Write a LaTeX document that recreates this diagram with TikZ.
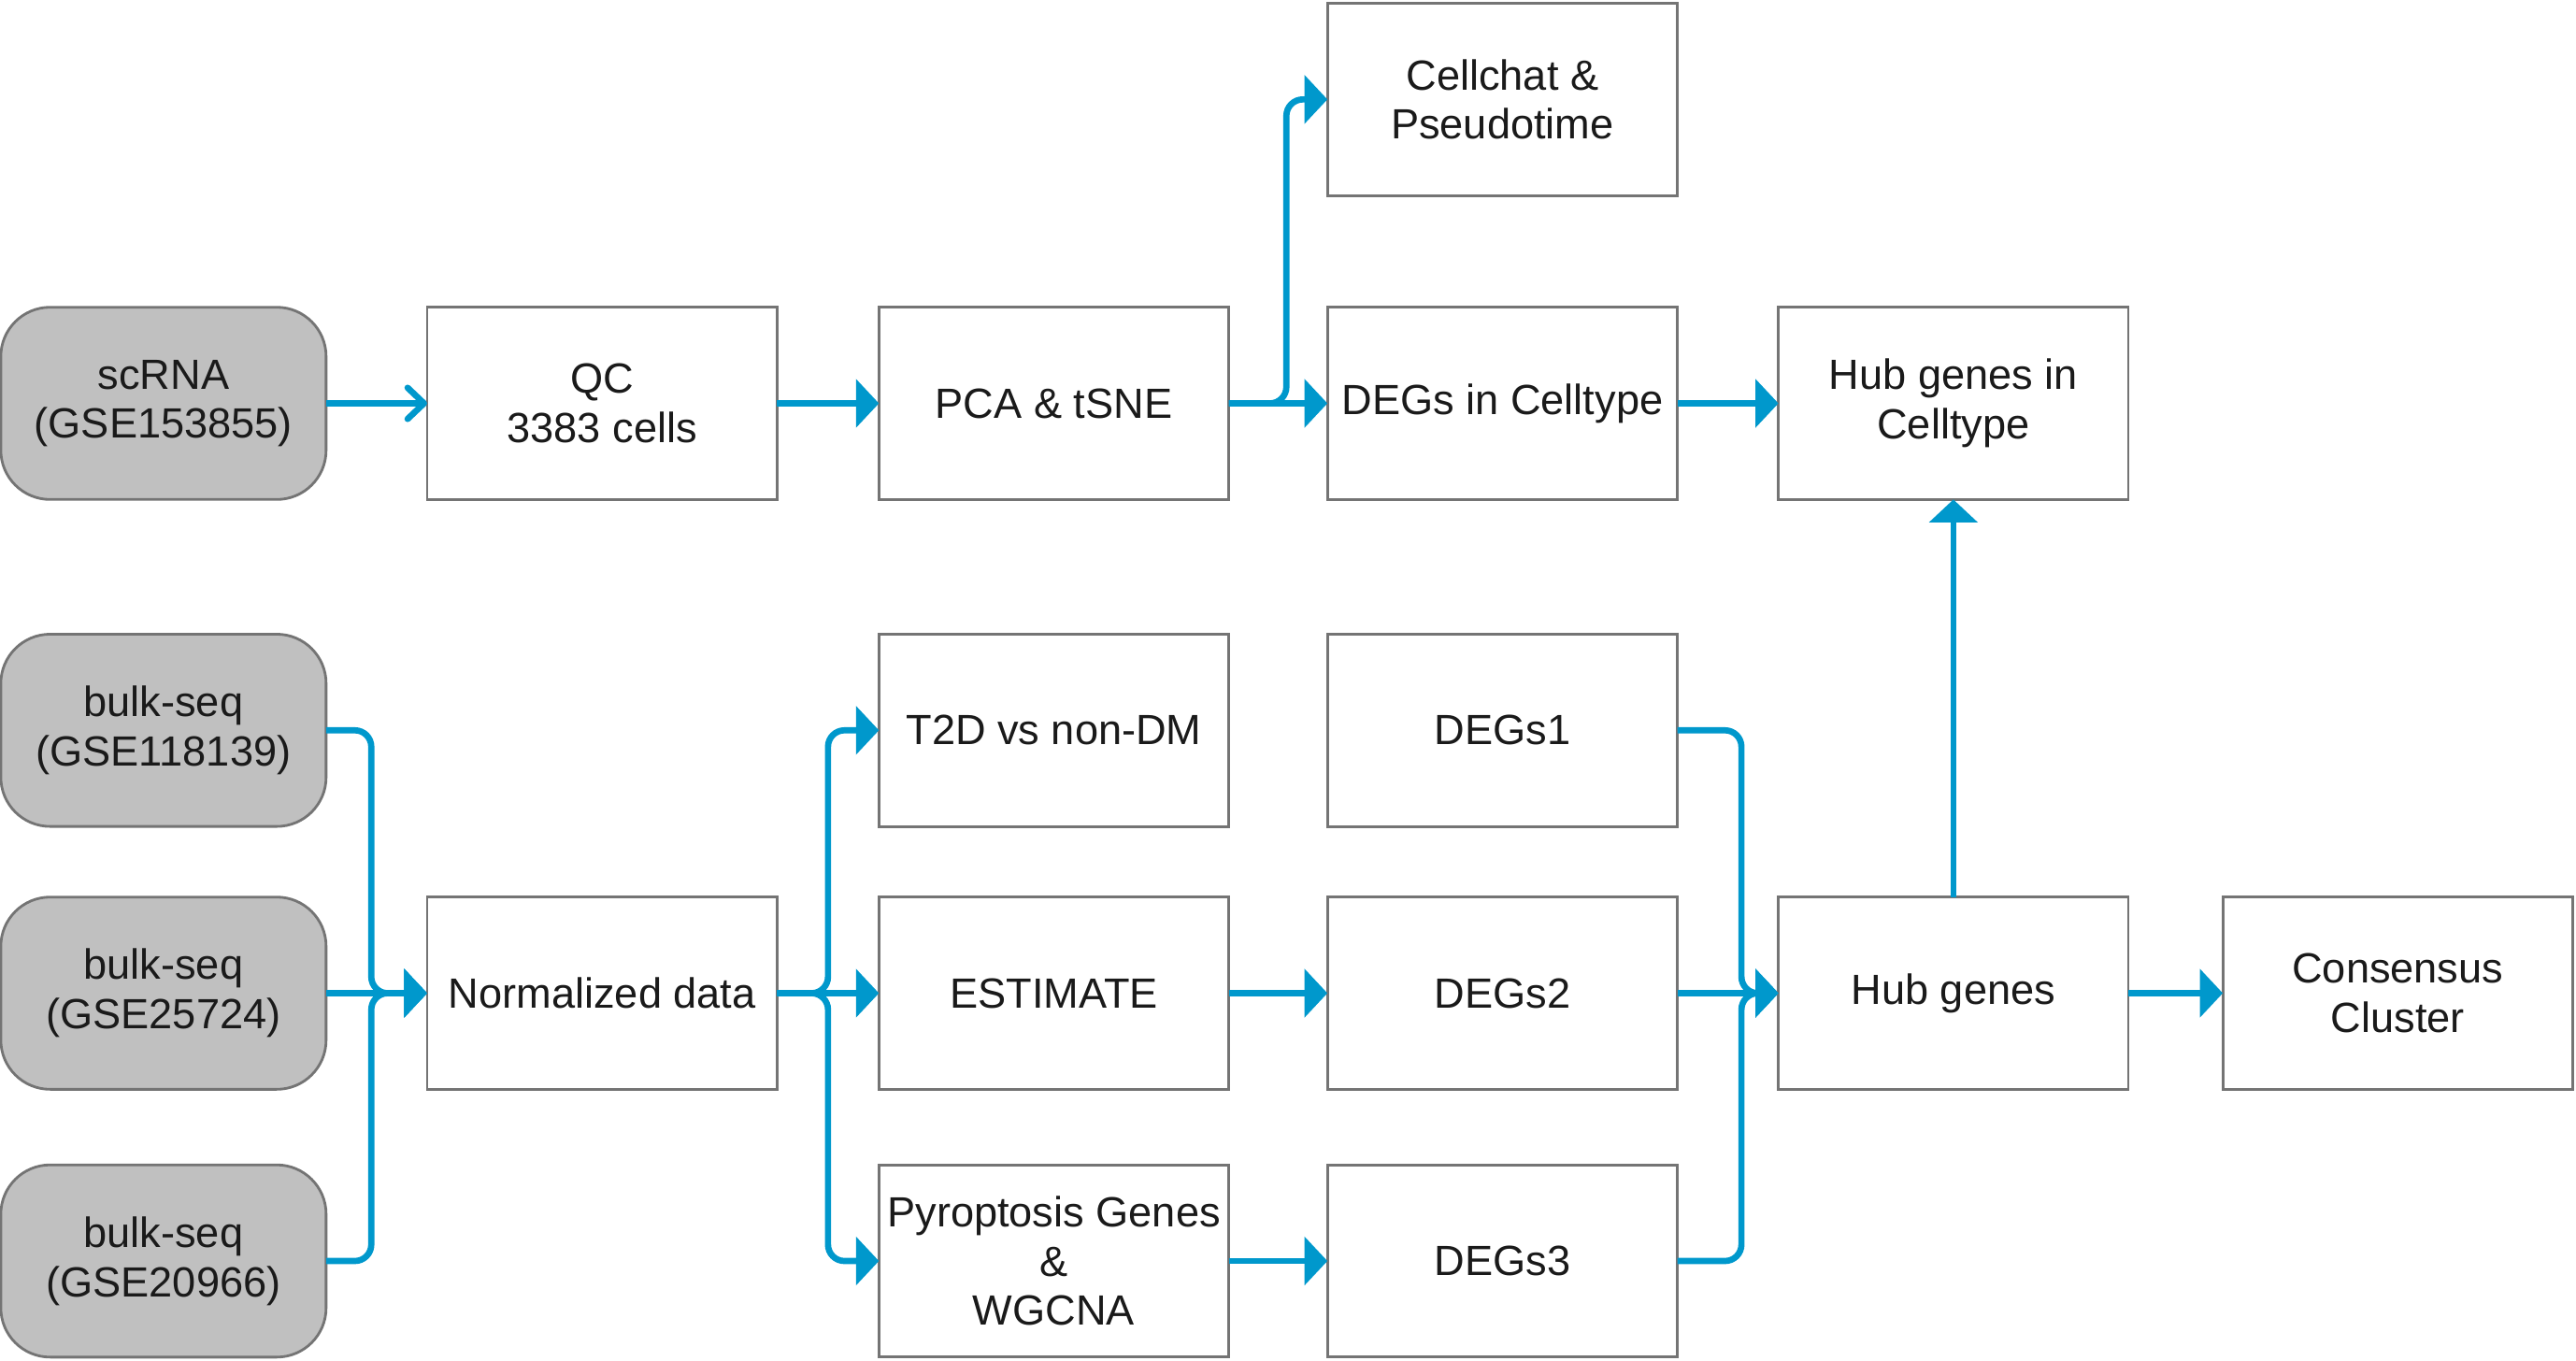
\documentclass[tikz,border=0pt]{standalone}
\usepackage{fontspec}
\setmainfont{Liberation Sans}
\usetikzlibrary{arrows.meta}
\definecolor{arrowblue}{HTML}{0098CC}
\definecolor{boxgray}{HTML}{C0C0C0}
\definecolor{bordergray}{HTML}{747474}
\definecolor{textcol}{HTML}{1A1A1A}
\begin{document}
\begin{tikzpicture}[x=1pt,y=-1pt,
  every node/.style={font=\fontsize{25.7}{30}\selectfont, text=textcol, align=center, inner sep=1pt, outer sep=0pt},
  procbox/.style={draw=bordergray, line width=1.6pt, fill=white, minimum width=213pt, minimum height=117pt},
  srcbox/.style={draw=bordergray, line width=1.6pt, fill=boxgray, rounded corners=30pt, minimum width=198pt, minimum height=117pt},
  flow/.style={draw=arrowblue, line width=3.8pt, -{Triangle[length=14pt,width=29pt]}, rounded corners=10pt},
  openflow/.style={draw=arrowblue, line width=3.8pt, -{Straight Barb[length=10pt,width=19pt,line width=3.8pt,round]}}
]
\useasboundingbox (0,0) rectangle (1568,828);
% sources
\node[srcbox] (sc) at (99.5,245.5) {scRNA\\(GSE153855)};
\node[srcbox] (b1) at (99.5,444.5) {bulk-seq\\(GSE118139)};
\node[srcbox] (b2) at (99.5,604.5) {bulk-seq\\(GSE25724)};
\node[srcbox] (b3) at (99.5,767.5) {bulk-seq\\(GSE20966)};
% process boxes
\node[procbox] (qc) at (366.5,245.5) {QC\\3383 cells};
\node[procbox] (pca) at (641.5,245.5) {PCA \& tSNE};
\node[procbox] (cc) at (914.5,60.5) {Cellchat \&\\Pseudotime};
\node[procbox] (dct) at (914.5,245.5) {DEGs in Celltype};
\node[procbox] (hct) at (1189,245.5) {Hub genes in\\Celltype};
\node[procbox] (norm) at (366.5,604.5) {Normalized data};
\node[procbox] (t2d) at (641.5,444.5) {T2D vs non-DM};
\node[procbox] (est) at (641.5,604.5) {ESTIMATE};
\node[procbox] (pyro) at (641.5,767.5) {Pyroptosis Genes\\\&\\WGCNA};
\node[procbox] (d1) at (914.5,444.5) {DEGs1};
\node[procbox] (d2) at (914.5,604.5) {DEGs2};
\node[procbox] (d3) at (914.5,767.5) {DEGs3};
\node[procbox] (hub) at (1189,604.5) {Hub genes};
\node[procbox] (cons) at (1459.5,604.5) {Consensus\\Cluster};
% junction coordinates
\coordinate (j1) at (226,0);
\coordinate (j2) at (504,0);
\coordinate (j3) at (783,0);
\coordinate (j4) at (1060,0);
% connectors
\draw[openflow] (sc) -- (qc);
\draw[flow] (qc) -- (pca);
\draw[flow] (pca) -- (dct);
\draw[flow] (pca.east) -- (j3 |- pca.east) -- (j3 |- cc.west) -- (cc.west);
\draw[flow] (dct) -- (hct);
\draw[flow] (b1.east) -- (j1 |- b1.east) -- (j1 |- norm.west) -- (norm.west);
\draw[flow] (b2.east) -- (norm.west);
\draw[flow] (b3.east) -- (j1 |- b3.east) -- (j1 |- norm.west) -- (norm.west);
\draw[flow] (norm.east) -- (j2 |- norm.east) -- (j2 |- t2d.west) -- (t2d.west);
\draw[flow] (norm.east) -- (est.west);
\draw[flow] (norm.east) -- (j2 |- norm.east) -- (j2 |- pyro.west) -- (pyro.west);
\draw[flow] (est) -- (d2);
\draw[flow] (pyro) -- (d3);
\draw[flow] (d1.east) -- (j4 |- d1.east) -- (j4 |- hub.west) -- (hub.west);
\draw[flow] (d2.east) -- (hub.west);
\draw[flow] (d3.east) -- (j4 |- d3.east) -- (j4 |- hub.west) -- (hub.west);
\draw[flow] (hub) -- (hct);
\draw[flow] (hub) -- (cons);
\end{tikzpicture}
\end{document}
